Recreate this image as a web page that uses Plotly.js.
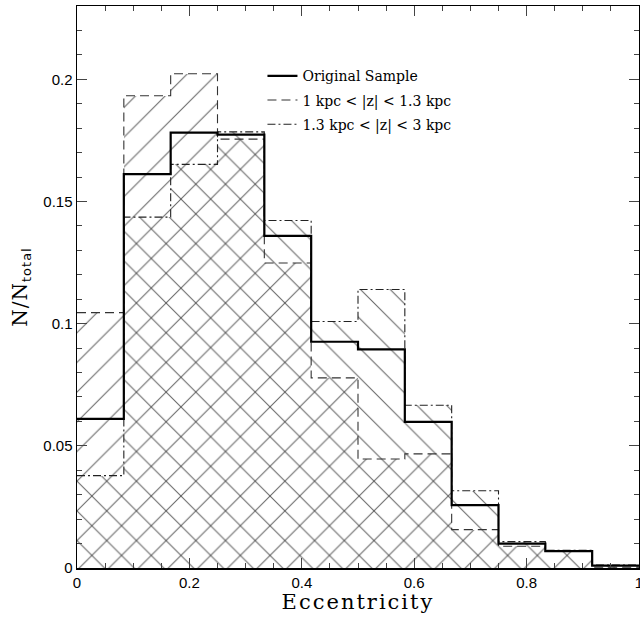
<!DOCTYPE html>
<html>
<head>
<meta charset="utf-8">
<script src="https://cdn.plot.ly/plotly-3.0.1.min.js"></script>
<style>
html,body{margin:0;padding:0;background:#fff;}
#chart{width:640px;height:618px;}
#chart .xtitle{letter-spacing:2px;}
#chart .ytitle{letter-spacing:1px;}
</style>
</head>
<body>
<div id="chart"></div>
<script>
// Eccentricity histogram: 12 bins from 0 to 1
const nBins = 12;
const originalSample = [0.0610, 0.1612, 0.1782, 0.1774, 0.1359, 0.0926, 0.0895, 0.0598, 0.0257, 0.0100, 0.0069, 0.0010];
const zLow  = [0.1045, 0.1933, 0.2023, 0.1755, 0.1248, 0.0778, 0.0446, 0.0467, 0.0157, 0.0089, 0.0068, 0.0003]; // 1 < |z| < 1.3 kpc
const zHigh = [0.0378, 0.1436, 0.1652, 0.1785, 0.1422, 0.1009, 0.1140, 0.0666, 0.0316, 0.0108, 0.0072, 0.0012]; // 1.3 < |z| < 3 kpc
const seriesNames = ['Original Sample', '1 kpc &lt; |z| &lt; 1.3 kpc', '1.3 kpc &lt; |z| &lt; 3 kpc'];
const xTickVals = [0, 0.2, 0.4, 0.6, 0.8, 1];
const xTickText = ['0', '0.2', '0.4', '0.6', '0.8', '1'];
const yTickVals = [0, 0.05, 0.1, 0.15, 0.2];
const yTickText = ['0', '0.05', '0.1', '0.15', '0.2'];

const binW = 1 / nBins;
const centers = originalSample.map((_, i) => (i + 0.5) * binW);
const edges = Array.from({length: nBins + 1}, (_, i) => i * binW);
const stepY = arr => arr.concat([arr[arr.length - 1]]);

function hatchBar(vals, shape) {
  return {
    type: 'bar', x: centers, y: vals, width: binW,
    marker: {color: 'rgba(0,0,0,0)', line: {width: 0},
      pattern: {shape: shape, size: 21, solidity: 0.05, fgcolor: '#333', bgcolor: 'rgba(0,0,0,0)', fgopacity: 0.75}},
    showlegend: false, hoverinfo: 'skip'
  };
}
function stepLine(vals, name, dash, width, color, group, rank) {
  return {
    type: 'scatter', mode: 'lines', x: edges, y: stepY(vals), name: name,
    line: {shape: 'hv', dash: dash, width: width, color: color},
    legendgroup: group, legendrank: rank
  };
}

const traces = [
  hatchBar(zLow, '/'),
  hatchBar(zHigh, '\\'),
  stepLine(zHigh, seriesNames[2], '8px,3px,2px,3px', 1.1, '#222', 'c', 3),
  stepLine(zLow, seriesNames[1], '9px,5px', 1.1, '#333', 'b', 2),
  stepLine(originalSample, seriesNames[0], 'solid', 2.2, '#000', 'a', 1)
];

const layout = {
  width: 640, height: 618,
  margin: {l: 77, r: 1, t: 6, b: 50},
  paper_bgcolor: '#fff', plot_bgcolor: '#fff',
  barmode: 'overlay', bargap: 0,
  showlegend: true,
  legend: {x: 0.33, y: 0.9035, xanchor: 'left', yanchor: 'top', bgcolor: 'rgba(0,0,0,0)',
    font: {family: 'DejaVu Serif', size: 14, color: '#000'}, traceorder: 'grouped', tracegroupgap: 3},
  xaxis: {range: [0, 1], tickvals: xTickVals, ticktext: xTickText, ticks: 'inside', ticklen: 10, tickwidth: 1,
    ticklabeloverflow: 'allow',
    showline: true, linewidth: 1.5, linecolor: '#000', mirror: 'allticks', showgrid: false, zeroline: false,
    minor: {dtick: 0.05, ticks: 'inside', ticklen: 5, tickwidth: 1, showgrid: false},
    tickfont: {family: 'Liberation Sans', size: 15, color: '#000'},
    title: {text: 'Eccentricity', font: {family: 'DejaVu Serif', size: 21, color: '#000'}, standoff: 3}},
  yaxis: {range: [0, 0.23], tickvals: yTickVals, ticktext: yTickText, ticks: 'inside', ticklen: 10, tickwidth: 1,
    showline: true, linewidth: 1.5, linecolor: '#000', mirror: 'allticks', showgrid: false, zeroline: false,
    minor: {dtick: 0.01, ticks: 'inside', ticklen: 5, tickwidth: 1, showgrid: false},
    tickfont: {family: 'Liberation Sans', size: 15, color: '#000'},
    title: {text: 'N/N<sub><span style="font-family:DejaVu Sans;font-size:13px">total</span></sub>', font: {family: 'DejaVu Serif', size: 20, color: '#000'}, standoff: 10}}
};

Plotly.newPlot('chart', traces, layout, {staticPlot: true, displayModeBar: false});
</script>
</body>
</html>
